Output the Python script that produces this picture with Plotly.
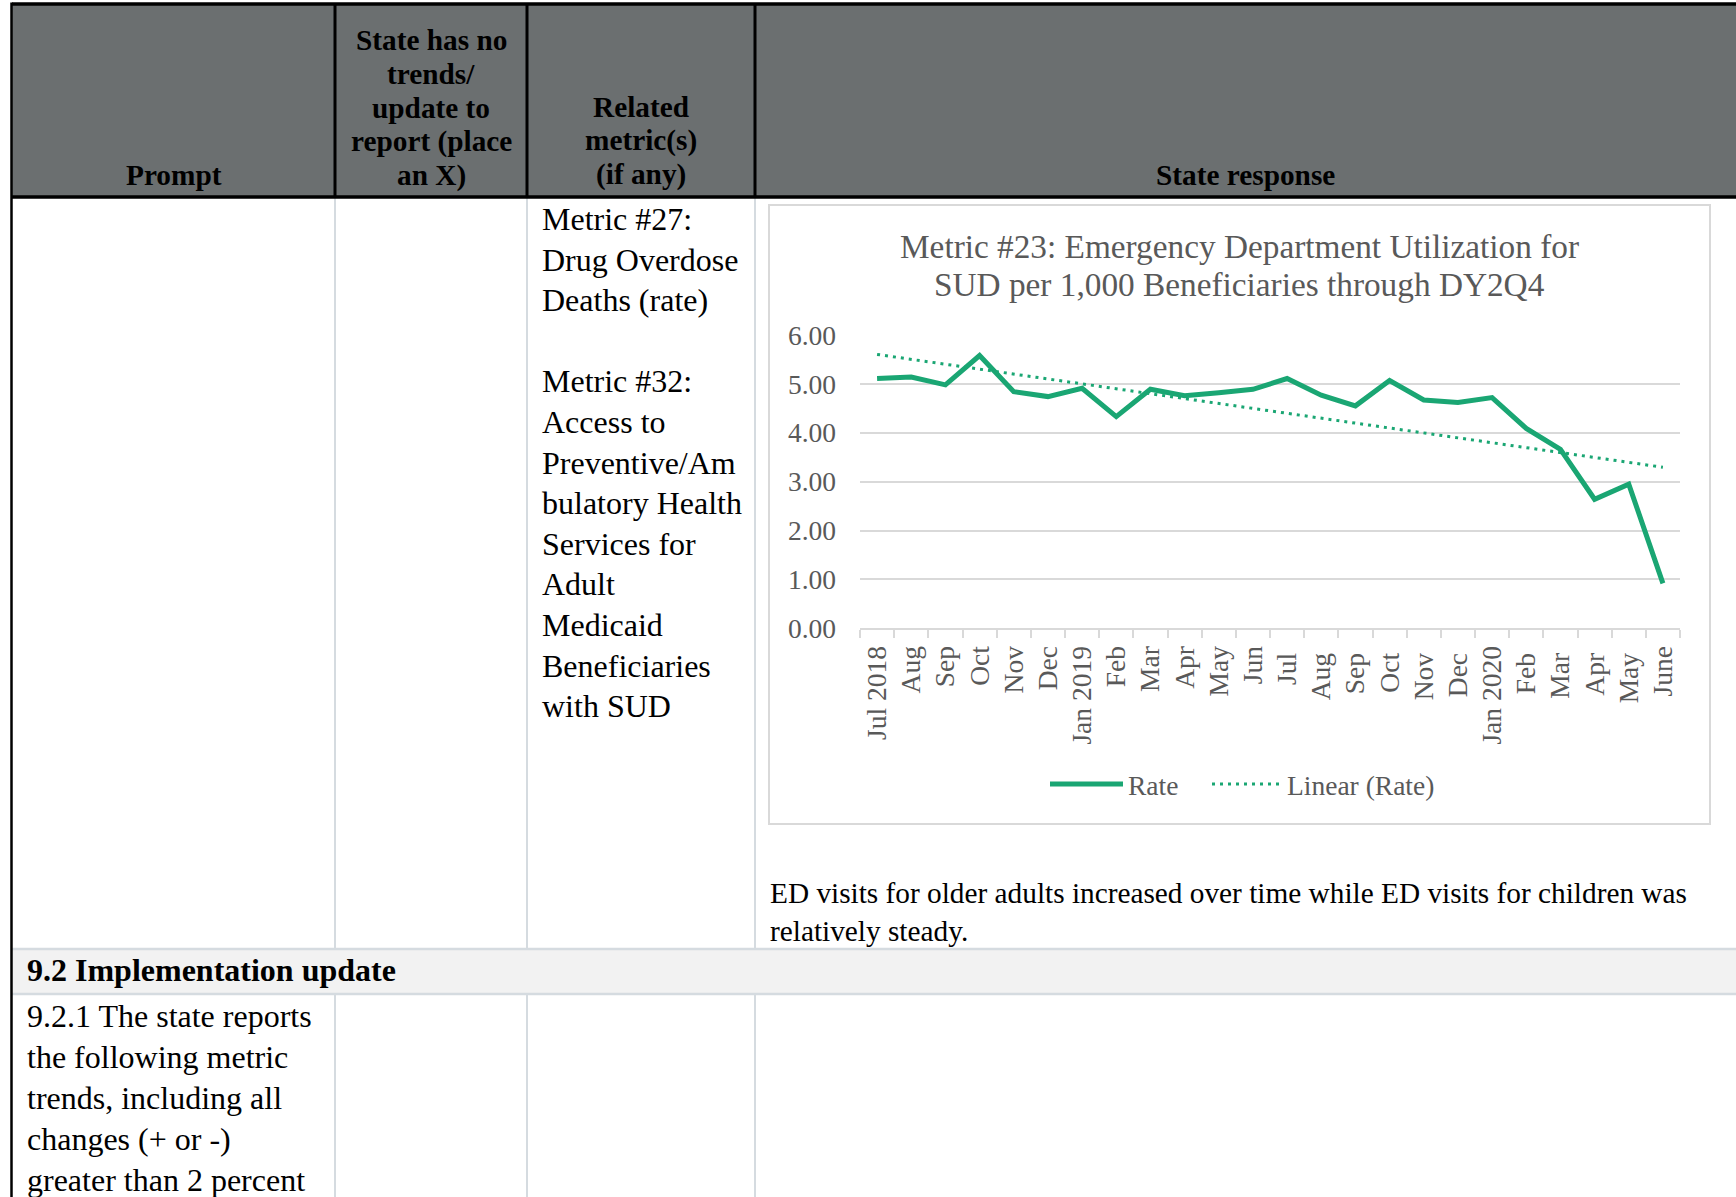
import numpy as np
import plotly.graph_objects as go

# ---------------- data ----------------
months = ["Jul 2018", "Aug", "Sep", "Oct", "Nov", "Dec", "Jan 2019", "Feb", "Mar",
          "Apr", "May", "Jun", "Jul ", "Aug ", "Sep ", "Oct ", "Nov ", "Dec ",
          "Jan 2020", "Feb ", "Mar ", "Apr ", "May ", "June"]
rate = [5.11, 5.14, 4.98, 5.58, 4.84, 4.74, 4.91, 4.33, 4.89, 4.76, 4.82, 4.89,
        5.11, 4.77, 4.55, 5.07, 4.67, 4.62, 4.72, 4.09, 3.66, 2.64, 2.95, 0.92]
y_ticks = [0, 1, 2, 3, 4, 5, 6]

chart_title = ["Metric #23: Emergency Department Utilization for",
               "SUD per 1,000 Beneficiaries through DY2Q4"]
header_prompt = "Prompt"
header_col2 = ["State has no", "trends/", "update to", "report (place", "an X)"]
header_col3 = ["Related", "metric(s)", "(if any)"]
header_col4 = "State response"
metric_lines = ["Metric #27:", "Drug Overdose", "Deaths (rate)", "",
                "Metric #32:", "Access to", "Preventive/Am", "bulatory Health",
                "Services for", "Adult", "Medicaid", "Beneficiaries", "with SUD"]
response_lines = ["ED visits for older adults increased over time while ED visits for children was",
                  "relatively steady."]
section_title = "9.2 Implementation update"
prompt_lines = ["9.2.1 The state reports", "the following metric",
                "trends, including all", "changes (+ or -)", "greater than 2 percent"]

# ---------------- geometry helpers ----------------
W, H = 1736, 1197
FONT = "Liberation Serif, Times New Roman, serif"
GREEN = "#1aa673"
GREY_TXT = "#595959"
GRID = "#d9d9d9"
CELL = "#d5dbe0"

def px(x):
    return x / W

def py(y):
    return 1 - y / H

shapes = []
annotations = []

def rect(x0, y0, x1, y1, fill=None, line=None, lw=0, layer="below"):
    shapes.append(dict(type="rect", xref="paper", yref="paper",
                       x0=px(x0), x1=px(x1), y0=py(y1), y1=py(y0),
                       fillcolor=fill if fill else "rgba(0,0,0,0)",
                       line=dict(color=line if line else "rgba(0,0,0,0)", width=lw),
                       layer=layer))

def seg(x0, y0, x1, y1, color, lw):
    shapes.append(dict(type="line", xref="paper", yref="paper",
                       x0=px(x0), x1=px(x1), y0=py(y0), y1=py(y1),
                       line=dict(color=color, width=lw), layer="above"))

def txt(s, x, y, size, bold=False, anchor="left", color="black"):
    if not s:
        return
    annotations.append(dict(text=("<b>%s</b>" % s) if bold else s,
                            xref="paper", yref="paper", x=px(x), y=py(y),
                            xanchor=anchor, yanchor="middle", showarrow=False,
                            font=dict(family=FONT, size=size, color=color),
                            borderpad=0))

# ---------------- table ----------------
COLS = [12, 335, 527, 755]
HEAD_TOP, HEAD_BOT = 4, 197
SEC_TOP, SEC_BOT = 949, 994

rect(12, HEAD_TOP, W, HEAD_BOT, fill="#6b6f70")
rect(12, SEC_TOP, W, SEC_BOT, fill="#f2f2f2")
for cx in COLS[1:]:
    seg(cx, HEAD_BOT, cx, SEC_TOP, CELL, 2)
    seg(cx, SEC_BOT, cx, H, CELL, 2)
seg(12, SEC_TOP, W, SEC_TOP, CELL, 2.5)
seg(12, SEC_BOT, W, SEC_BOT, CELL, 2.5)
for cx in COLS[1:]:
    seg(cx, HEAD_TOP, cx, HEAD_BOT, "black", 3)
seg(12, HEAD_TOP, W, HEAD_TOP, "black", 3.5)
seg(12, HEAD_BOT, W, HEAD_BOT, "black", 3.5)
seg(11.5, HEAD_TOP - 1.5, 11.5, H, "black", 2.5)

HS = 29.3
txt(header_prompt, (COLS[0] + COLS[1]) / 2, 175, HS, True, "center")
for i, s in enumerate(header_col2):
    txt(s, (COLS[1] + COLS[2]) / 2, 40 + i * 33.8, HS, True, "center")
for i, s in enumerate(header_col3):
    txt(s, (COLS[2] + COLS[3]) / 2, 107 + i * 33.8, HS, True, "center")
txt(header_col4, (COLS[3] + W) / 2, 175, HS, True, "center")

for i, s in enumerate(metric_lines):
    txt(s, 541, 219 + i * 40.6, 32)

for i, s in enumerate(response_lines):
    txt(s, 769, 893 + i * 37.6, 29.3)

txt(section_title, 26, 970, 32, True)
for i, s in enumerate(prompt_lines):
    txt(s, 26, 1016 + i * 41, 32)

rect(769, 205, 1710, 824, line=GRID, lw=2)
for i, s in enumerate(chart_title):
    txt(s, 1239, 246 + i * 38.7, 33.3, False, "center", GREY_TXT)

# ---------------- chart ----------------
xi = np.arange(1, len(rate) + 1)
slope, intercept = np.polyfit(xi, np.array(rate), 1)
trend = slope * xi + intercept

fig = go.Figure()
fig.add_trace(go.Scatter(x=months, y=rate, mode="lines", name="Rate",
                         legend="legend",
                         line=dict(color=GREEN, width=5, shape="linear")))
fig.add_trace(go.Scatter(x=months, y=trend, mode="lines", name="Linear (Rate)",
                         legend="legend2",
                         line=dict(color=GREEN, width=3, dash="3px,5px")))

PLOT_L, PLOT_R, PLOT_T, PLOT_B = 860, 1680, 335, 628.3
leg_font = dict(family=FONT, size=27.5, color=GREY_TXT)

fig.update_layout(
    template="none",
    width=W, height=H, autosize=False,
    margin=dict(l=0, r=0, t=0, b=0, pad=0, autoexpand=False),
    paper_bgcolor="white", plot_bgcolor="white",
    shapes=shapes, annotations=annotations,
    xaxis=dict(domain=[px(PLOT_L), px(PLOT_R)], type="category",
               categoryorder="array", categoryarray=months,
               range=[-0.5, len(months) - 0.5], tickangle=-90,
               ticks="outside", tickson="boundaries", ticklen=8,
               tickcolor=GRID, tickwidth=1.5, showgrid=False,
               showline=True, linecolor=GRID, linewidth=1.5,
               ticklabelstandoff=5,
               tickfont=dict(family=FONT, size=27.5, color=GREY_TXT),
               automargin=False, fixedrange=True),
    yaxis=dict(domain=[py(PLOT_B), py(PLOT_T)], range=[0, 6],
               tickvals=y_ticks, tickformat=".2f", ticks="",
               showgrid=True, gridcolor=GRID, gridwidth=1.5,
               zeroline=False, showline=False, ticklabelstandoff=23,
               tickfont=dict(family=FONT, size=27.5, color=GREY_TXT),
               automargin=False, fixedrange=True),
    showlegend=True,
    legend=dict(orientation="h", x=px(1045), y=py(784), xanchor="left",
                yanchor="middle", bgcolor="rgba(0,0,0,0)", borderwidth=0,
                font=leg_font, itemwidth=73),
    legend2=dict(orientation="h", x=px(1207), y=py(784), xanchor="left",
                 yanchor="middle", bgcolor="rgba(0,0,0,0)", borderwidth=0,
                 font=leg_font, itemwidth=70),
)

fig.write_html("out.html", config={"displayModeBar": False},
               post_script="document.body.style.margin='0';")
